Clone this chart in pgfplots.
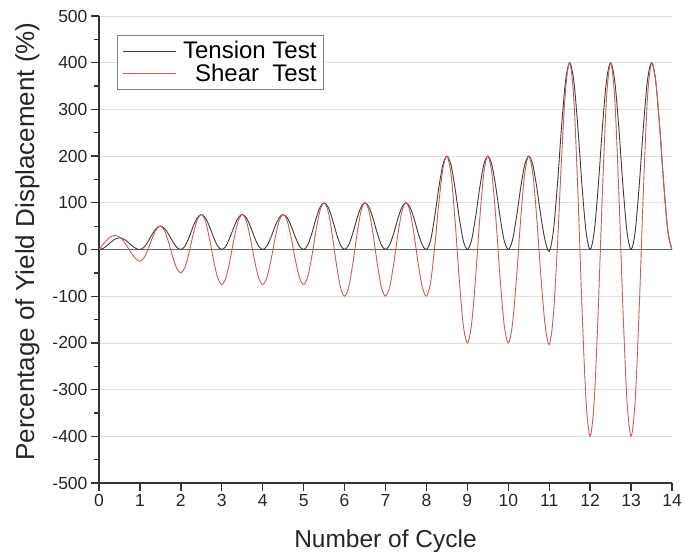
\documentclass[border=0pt]{standalone}
\usepackage{pgfplots}
\pgfplotsset{compat=1.18}
\usepackage{fontspec}
\setmainfont{Liberation Sans}
\definecolor{tens}{RGB}{60,60,60}
\definecolor{shear}{RGB}{205,90,90}
\begin{document}
\begin{tikzpicture}
\useasboundingbox (0pt,0pt) rectangle (685pt,554pt);
\begin{axis}[
  at={(99pt,71pt)}, anchor=south west,
  scale only axis, width=573pt, height=467pt,
  xmin=0, xmax=14, ymin=-500, ymax=500,
  axis lines*=left,
  xtick={0,1,...,14}, ytick={-500,-400,...,500},
  minor y tick num=1,
  tick align=outside,
  major tick length=8pt, minor tick length=5pt,
  axis line style={line width=1.6pt, black!80},
  tick style={line width=1.3pt, black!80},
  ymajorgrids, major grid style={line width=0.8pt, black!12},
  /pgf/number format/assume math mode=true,
  tick label style={font=\fontsize{17.5}{20}\selectfont, black!85},
  xlabel={Number of Cycle},
  ylabel={Percentage of Yield Displacement (\%)},
  xlabel style={font=\fontsize{24.5}{28}\selectfont, black!85, yshift=-16pt},
  ylabel style={font=\fontsize{26}{29}\selectfont, black!85, yshift=6pt, xshift=8pt},
  legend style={at={(0.031,0.959)}, anchor=north west, draw=black!50,
    line width=0.8pt, font=\fontsize{24}{29}\selectfont, fill=white,
    inner xsep=5pt, inner ysep=4pt},
  legend cell align=right,
  legend image code/.code={\draw[#1] (8pt,0pt) -- (61pt,0pt); \path (66pt,0pt);},
]
\addplot[forget plot, black!60, line width=0.8pt] coordinates {(0,0) (14,0)};
\addplot[tens, line width=0.9pt, smooth] table {
x y
0 0
0.1 2.39
0.2 8.64
0.3 16.36
0.4 22.61
0.5 25
0.6 22.61
0.7 16.36
0.8 8.64
0.9 2.39
1 0
1.1 4.78
1.2 17.28
1.3 32.73
1.4 45.23
1.5 50
1.6 45.23
1.7 32.73
1.8 17.28
1.9 4.78
2 0
2.1 7.16
2.2 25.91
2.3 49.09
2.4 67.84
2.5 75
2.6 67.84
2.7 49.09
2.8 25.91
2.9 7.16
3 0
3.1 7.16
3.2 25.91
3.3 49.09
3.4 67.84
3.5 75
3.6 67.84
3.7 49.09
3.8 25.91
3.9 7.16
4 0
4.1 7.16
4.2 25.91
4.3 49.09
4.4 67.84
4.5 75
4.6 67.84
4.7 49.09
4.8 25.91
4.9 7.16
5 0
5.1 9.55
5.2 34.55
5.3 65.45
5.4 90.45
5.5 100
5.6 90.45
5.7 65.45
5.8 34.55
5.9 9.55
6 0
6.1 9.55
6.2 34.55
6.3 65.45
6.4 90.45
6.5 100
6.6 90.45
6.7 65.45
6.8 34.55
6.9 9.55
7 0
7.1 9.55
7.2 34.55
7.3 65.45
7.4 90.45
7.5 100
7.6 90.45
7.7 65.45
7.8 34.55
7.9 9.55
8 0
8.1 19.1
8.2 69.1
8.3 130.9
8.4 180.9
8.5 200
8.6 180.9
8.7 130.9
8.8 69.1
8.9 19.1
9 0
9.1 19.1
9.2 69.1
9.3 130.9
9.4 180.9
9.5 200
9.6 180.9
9.7 130.9
9.8 69.1
9.9 19.1
10 0
10.1 19.1
10.2 69.1
10.3 130.9
10.4 180.9
10.5 200
10.6 180.9
10.7 130.9
10.8 69.1
10.9 19.1
11 -4
11.1 38.2
11.2 138.2
11.3 261.8
11.4 361.8
11.5 400
11.6 361.8
11.7 261.8
11.8 138.2
11.9 38.2
12 0
12.1 38.2
12.2 138.2
12.3 261.8
12.4 361.8
12.5 400
12.6 361.8
12.7 261.8
12.8 138.2
12.9 38.2
13 0
13.1 38.2
13.2 138.2
13.3 261.8
13.4 361.8
13.5 400
13.6 361.8
13.7 261.8
13.8 138.2
13.9 38.2
14 0
};
\addlegendentry{Tension Test}
\addplot[shear, line width=0.9pt, smooth] table {
x y
0 0
0.1 11
0.2 21
0.3 28
0.4 30
0.5 27
0.6 18
0.7 5
0.8 -9
0.9 -20
1 -25
1.1 -17.84
1.2 0.91
1.3 24.09
1.4 42.84
1.5 50
1.6 40.45
1.7 15.45
1.8 -15.45
1.9 -40.45
2 -50
2.1 -38.06
2.2 -6.81
2.3 31.81
2.4 63.06
2.5 75
2.6 60.68
2.7 23.18
2.8 -23.18
2.9 -60.68
3 -75
3.1 -60.68
3.2 -23.18
3.3 23.18
3.4 60.68
3.5 75
3.6 60.68
3.7 23.18
3.8 -23.18
3.9 -60.68
4 -75
4.1 -60.68
4.2 -23.18
4.3 23.18
4.4 60.68
4.5 75
4.6 60.68
4.7 23.18
4.8 -23.18
4.9 -60.68
5 -75
5.1 -58.29
5.2 -14.54
5.3 39.54
5.4 83.29
5.5 100
5.6 80.9
5.7 30.9
5.8 -30.9
5.9 -80.9
6 -100
6.1 -80.9
6.2 -30.9
6.3 30.9
6.4 80.9
6.5 100
6.6 80.9
6.7 30.9
6.8 -30.9
6.9 -80.9
7 -100
7.1 -80.9
7.2 -30.9
7.3 30.9
7.4 80.9
7.5 100
7.6 80.9
7.7 30.9
7.8 -30.9
7.9 -80.9
8 -100
8.1 -71.35
8.2 3.65
8.3 96.35
8.4 171.35
8.5 200
8.6 161.8
8.7 61.8
8.8 -61.8
8.9 -161.8
9 -200
9.1 -161.8
9.2 -61.8
9.3 61.8
9.4 161.8
9.5 200
9.6 161.8
9.7 61.8
9.8 -61.8
9.9 -161.8
10 -200
10.1 -161.8
10.2 -61.8
10.3 61.8
10.4 161.8
10.5 200
10.6 161.8
10.7 61.8
10.8 -61.8
10.9 -161.8
11 -204
11.1 -142.7
11.2 7.3
11.3 192.7
11.4 342.7
11.5 400
11.6 323.6
11.7 123.6
11.8 -123.6
11.9 -323.6
12 -400
12.1 -323.6
12.2 -123.6
12.3 123.6
12.4 323.6
12.5 400
12.6 323.6
12.7 123.6
12.8 -123.6
12.9 -323.6
13 -400
13.1 -323.6
13.2 -123.6
13.3 123.6
13.4 323.6
13.5 400
13.6 361.8
13.7 261.8
13.8 138.2
13.9 38.2
14 0
};
\addlegendentry{Shear\ \ Test}
\end{axis}
\end{tikzpicture}
\end{document}
